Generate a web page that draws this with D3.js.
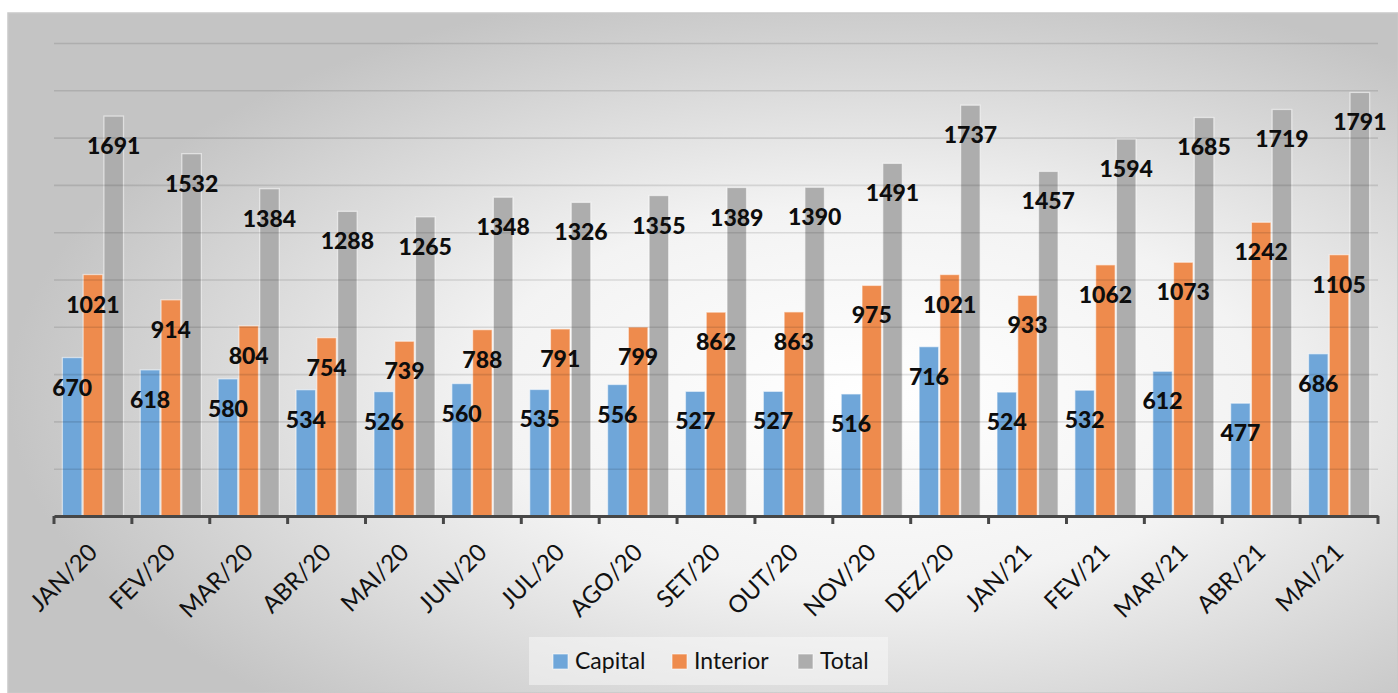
<!DOCTYPE html>
<html>
<head>
<meta charset="utf-8">
<script src="https://cdn.jsdelivr.net/npm/d3@7"></script>
<style>
  html, body { margin: 0; padding: 0; background: #fff; }
  svg { display: block; }
</style>
</head>
<body>
<div id="chart_area"></div>
<script>
/////////////////////////////
// data
const months = ["JAN/20", "FEV/20", "MAR/20", "ABR/20", "MAI/20", "JUN/20", "JUL/20", "AGO/20",
  "SET/20", "OUT/20", "NOV/20", "DEZ/20", "JAN/21", "FEV/21", "MAR/21", "ABR/21", "MAI/21"];
const capital = [670, 618, 580, 534, 526, 560, 535, 556, 527, 527, 516, 716, 524, 532, 612, 477, 686];
const interior = [1021, 914, 804, 754, 739, 788, 791, 799, 862, 863, 975, 1021, 933, 1062, 1073, 1242, 1105];
const total = [1691, 1532, 1384, 1288, 1265, 1348, 1326, 1355, 1389, 1390, 1491, 1737, 1457, 1594, 1685, 1719, 1791];
const seriesNames = ["Capital", "Interior", "Total"];
const yTicks = [0, 200, 400, 600, 800, 1000, 1200, 1400, 1600, 1800, 2000];
/////////////////////////////

let width = 1398;
let height = 693;
let margin = { top: 43, right: 20, bottom: 177, left: 54 };
let colors = { Capital: "#6fa6d9", Interior: "#ee8b4d", Total: "#adadad" };
let font = "Lato, 'Open Sans', sans-serif";

let rows = months.map((m, i) => ({ month: m, Capital: capital[i], Interior: interior[i], Total: total[i] }));

let svg = d3.select("#chart_area").append("svg")
  .attr("width", width)
  .attr("height", height);

// background gradient
let defs = svg.append("defs");
let grad = defs.append("radialGradient")
  .attr("id", "bg_grad")
  .attr("cx", 0.62).attr("cy", 0.56).attr("r", 0.62);
grad.append("stop").attr("offset", 0).attr("stop-color", "#ffffff");
grad.append("stop").attr("offset", 0.45).attr("stop-color", "#f3f3f3");
grad.append("stop").attr("offset", 1).attr("stop-color", "#c4c4c4");

svg.append("rect")
  .attr("x", 8).attr("y", 13)
  .attr("width", width - 8).attr("height", height - 13)
  .attr("fill", "url(#bg_grad)")
  .attr("stroke", "#c9c9c9")
  .attr("stroke-width", 1.5);

// scales
let x0 = d3.scaleBand()
  .domain(months)
  .range([margin.left, width - margin.right])
  .padding(0);

let x1 = d3.scaleBand()
  .domain(seriesNames)
  .range([x0.bandwidth() * 0.1, x0.bandwidth() * 0.9])
  .padding(0);

let y = d3.scaleLinear()
  .domain([0, 2000])
  .range([height - margin.bottom, margin.top]);

// bars
let groups = svg.append("g").selectAll("g")
  .data(rows)
  .enter().append("g")
  .attr("transform", d => `translate(${x0(d.month)},0)`);

groups.selectAll("rect")
  .data(d => seriesNames.map(k => ({ key: k, value: d[k] })))
  .enter().append("rect")
  .attr("x", d => x1(d.key) + 0.6)
  .attr("width", x1.bandwidth() - 1.2)
  .attr("y", d => y(d.value))
  .attr("height", d => y(0) - y(d.value))
  .attr("fill", d => colors[d.key])
  .attr("stroke", "rgba(255,255,255,0.55)")
  .attr("stroke-width", 1.3);

// gridlines (drawn over bars like the original)
svg.append("g")
  .attr("transform", `translate(${margin.left},0)`)
  .call(d3.axisLeft(y).tickValues(yTicks.slice(1)).tickSize(-(width - margin.left - margin.right)).tickFormat(""))
  .call(g => g.select(".domain").remove())
  .call(g => g.selectAll("line").attr("stroke", "#000").attr("stroke-opacity", 0.11).attr("stroke-width", 1.6));

// x axis
let xAxis = svg.append("g")
  .attr("transform", `translate(0,${y(0)})`)
  .call(d3.axisBottom(x0).tickSize(0).tickFormat(""));
xAxis.select(".domain")
  .attr("stroke", "#474747")
  .attr("stroke-width", 3);

// tick marks at category boundaries
let bounds = months.map(m => x0(m)).concat([x0.range()[1]]);
xAxis.selectAll(".bound")
  .data(bounds)
  .enter().append("line")
  .attr("class", "bound")
  .attr("x1", d => d).attr("x2", d => d)
  .attr("y1", 0).attr("y2", 8)
  .attr("stroke", "#474747")
  .attr("stroke-width", 3);

// rotated category labels
svg.append("g").selectAll("text")
  .data(months)
  .enter().append("text")
  .attr("transform", d => `translate(${x0(d) + x0.bandwidth() / 2},${y(0) + 32}) rotate(-45)`)
  .attr("text-anchor", "end")
  .attr("dy", "0.35em")
  .style("font-family", font)
  .style("font-size", "24px")
  .style("fill", "#111")
  .text(d => d);

// value labels
groups.selectAll("text")
  .data(d => seriesNames.map(k => ({ key: k, value: d[k] })))
  .enter().append("text")
  .attr("x", d => x1(d.key) + x1.bandwidth() / 2)
  .attr("y", d => y(d.value) + 38)
  .attr("text-anchor", "middle")
  .style("font-family", font)
  .style("font-weight", "900")
  .style("font-size", "23px")
  .style("fill", "#0d0d0d")
  .text(d => d.value);

// legend
let legend = svg.append("g");
legend.append("rect")
  .attr("x", 529).attr("y", 637)
  .attr("width", 359).attr("height", 48)
  .attr("fill", "#fafafa")
  .attr("fill-opacity", 0.5);

let legendX = [553, 672, 798];
seriesNames.forEach((k, i) => {
  legend.append("rect")
    .attr("x", legendX[i]).attr("y", 654)
    .attr("width", 15).attr("height", 15)
    .attr("fill", colors[k])
    .attr("stroke", "rgba(255,255,255,0.6)");
  legend.append("text")
    .attr("x", legendX[i] + 22).attr("y", 669)
    .style("font-family", font)
    .style("font-size", "23px")
    .style("fill", "#111")
    .text(k);
});
</script>
</body>
</html>
